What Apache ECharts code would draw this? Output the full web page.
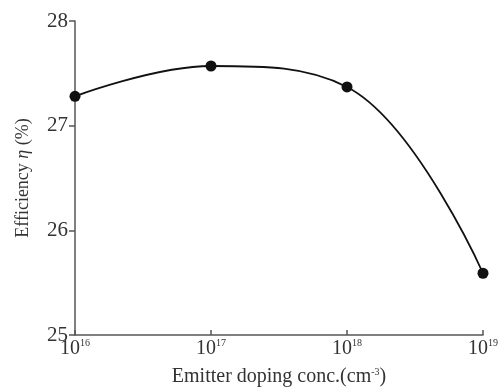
<!DOCTYPE html>
<html><head><meta charset="utf-8">
<script src="https://cdn.jsdelivr.net/npm/echarts@6/dist/echarts.min.js"></script>
<style>html,body{margin:0;padding:0;background:#fff}#c{width:502px;height:392px}</style>
</head><body><div id="c"></div>
<script>
const dopingConc = [1e16, 1e17, 1e18, 1e19];
const efficiency = [27.28, 27.57, 27.37, 25.59];
const yTicks = [25, 26, 27, 28];

const chart = echarts.init(document.getElementById('c'), null, {renderer: 'canvas'});
const serif = '"Liberation Serif", "DejaVu Serif", serif';
const axisColor = '#555';
const textColor = '#333';
chart.setOption({
  animation: false,
  grid: {left: 75, right: 19, top: 21, bottom: 56},
  xAxis: {
    type: 'log', logBase: 10, min: 1e16, max: 1e19,
    name: 'Emitter doping conc.(cm{sup|-3})',
    nameLocation: 'middle', nameGap: 32,
    nameTextStyle: {fontFamily: serif, fontSize: 20, color: textColor,
      rich: {sup: {fontFamily: serif, fontSize: 10, verticalAlign: 'top', padding: [0,0,10,0], color: textColor}}},
    axisLine: {lineStyle: {color: axisColor, width: 1.5}},
    axisTick: {inside: true, length: 5, lineStyle: {color: axisColor, width: 1.5}},
    minorTick: {show: false},
    splitLine: {show: false},
    axisLabel: {
      margin: 3,
      formatter: v => '{b|10}{sup|' + Math.round(Math.log10(v)) + '}',
      rich: {
        b: {fontFamily: serif, fontSize: 20, color: textColor},
        sup: {fontFamily: serif, fontSize: 10, color: textColor, verticalAlign: 'top', padding: [0,0,11,0]}
      }
    }
  },
  yAxis: {
    type: 'value', min: yTicks[0], max: yTicks[yTicks.length-1], interval: 1,
    name: 'Efficiency {i|η} (%)',
    nameLocation: 'middle', nameGap: 43, nameRotate: 90,
    nameTextStyle: {fontFamily: serif, fontSize: 18, color: textColor,
      rich: {i: {fontFamily: serif, fontSize: 18, fontStyle: 'italic', color: textColor}}},
    axisLine: {show: true, lineStyle: {color: axisColor, width: 1.5}},
    axisTick: {show: true, inside: false, length: 6, lineStyle: {color: axisColor, width: 1.5}},
    splitLine: {show: false},
    axisLabel: {fontFamily: serif, fontSize: 21, color: textColor, margin: 7}
  },
  series: [{
    type: 'line',
    data: dopingConc.map((x, i) => [x, efficiency[i]]),
    smooth: 0.4,
    symbol: 'circle', symbolSize: 11,
    itemStyle: {color: '#111'},
    lineStyle: {color: '#111', width: 1.8}
  }]
});
</script></body></html>
